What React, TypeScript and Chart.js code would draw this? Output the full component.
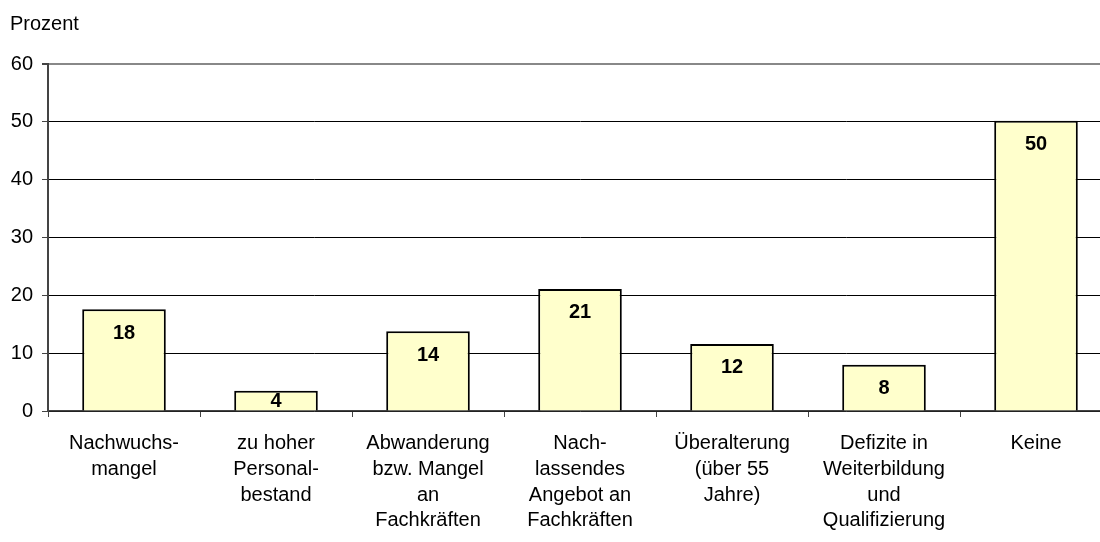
import React, { useEffect, useRef } from "react";
import { Chart, registerables } from "chart.js";

Chart.register(...registerables);

const categories: string[][] = [
  ["Nachwuchs-", "mangel"],
  ["zu hoher", "Personal-", "bestand"],
  ["Abwanderung", "bzw. Mangel", "an", "Fachkräften"],
  ["Nach-", "lassendes", "Angebot an", "Fachkräften"],
  ["Überalterung", "(über 55", "Jahre)"],
  ["Defizite in", "Weiterbildung", "und", "Qualifizierung"],
  ["Keine"],
];
const values: number[] = [17.6, 3.5, 13.8, 21.1, 11.6, 8.0, 50.2];
const yTicks: number[] = [0, 10, 20, 30, 40, 50, 60];
const yTitle = "Prozent";

const FONT = "'Liberation Sans', Arial, sans-serif";

const labelPlugin = {
  id: "barLabels",
  afterDatasetsDraw(chart: any) {
    const ctx = chart.ctx;
    const meta = chart.getDatasetMeta(0);
    ctx.save();
    ctx.font = `bold 20px ${FONT}`;
    ctx.fillStyle = "#000";
    ctx.textAlign = "center";
    ctx.textBaseline = "middle";
    meta.data.forEach((bar: any, i: number) => {
      const top = bar.y;
      const base = bar.base;
      const y = Math.min(top + 24, (top + base) / 2 + 1);
      ctx.fillText(String(Math.round(values[i])), bar.x, y);
    });
    ctx.restore();
  },
};

const titlePlugin = {
  id: "yTitle",
  afterDraw(chart: any) {
    const ctx = chart.ctx;
    ctx.save();
    ctx.font = `20px ${FONT}`;
    ctx.fillStyle = "#000";
    ctx.textAlign = "left";
    ctx.textBaseline = "middle";
    ctx.fillText(yTitle, 10, 24);
    ctx.restore();
  },
};

export default function App() {
  const ref = useRef<HTMLCanvasElement>(null);
  useEffect(() => {
    if (!ref.current) return;
    const chart = new Chart(ref.current, {
      type: "bar",
      data: {
        labels: categories,
        datasets: [
          {
            data: values,
            backgroundColor: "#FFFFCC",
            borderColor: "#000",
            borderWidth: 2,
            barPercentage: 0.55,
            categoryPercentage: 1,
          },
        ],
      },
      options: {
        animation: false,
        responsive: false,
        layout: { padding: { left: 0, right: 8, top: 64, bottom: 0 } },
        plugins: { legend: { display: false }, tooltip: { enabled: false } },
        scales: {
          x: {
            grid: {
              display: true,
              drawOnChartArea: false,
              offset: true,
              tickLength: 6,
              tickColor: "#444",
            },
            border: { display: true, color: "#444", width: 1.5 },
            ticks: {
              color: "#000",
              padding: 14,
              maxRotation: 0,
              autoSkip: false,
              font: { family: FONT, size: 20, lineHeight: 1.28 },
            },
            afterFit(scale: any) {
              scale.height = 131;
            },
          },
          y: {
            min: 0,
            max: 60,
            afterBuildTicks(scale: any) {
              scale.ticks = yTicks.map((v) => ({ value: v }));
            },
            grid: {
              color: (c: any) => (c.tick && c.tick.value === 60 ? "#888" : "#000"),
              lineWidth: (c: any) => (c.tick && c.tick.value === 60 ? 2 : 1),
              tickLength: 6,
              tickColor: "#444",
            },
            border: { display: true, color: "#444", width: 2 },
            ticks: {
              color: "#000",
              padding: 9,
              font: { family: FONT, size: 20 },
            },
            afterFit(scale: any) {
              scale.width = 48;
            },
          },
        },
      },
      plugins: [labelPlugin, titlePlugin],
    });
    return () => chart.destroy();
  }, []);
  return (
    <div
      style={{
        position: "fixed",
        left: 0,
        top: 0,
        width: 1100,
        height: 542,
        overflow: "hidden",
        background: "#fff",
      }}
    >
      <canvas ref={ref} width={1120} height={542} style={{ display: "block" }} />
    </div>
  );
}
